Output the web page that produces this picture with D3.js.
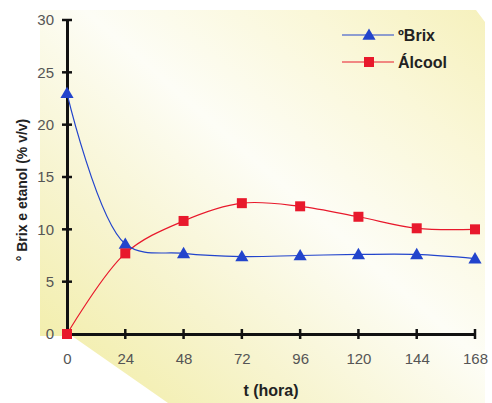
<!DOCTYPE html>
<html>
<head>
<meta charset="utf-8">
<script src="https://cdn.jsdelivr.net/npm/d3@7"></script>
<style>
  body { margin: 0; background: #fff; }
  text { font-family: "Liberation Sans", Arial, sans-serif; }
</style>
</head>
<body>
<div id="canvas"></div>
<script>
"use strict"

/* Size of the canvas */
let svgWidth = 492;
let svgHeight = 403;

/* Plot area edges */
let leftMargin = 67
let rightMargin = 17
let topMargin = 20
let bottomMargin = 69

/* Chart values */
let hours = [0, 24, 48, 72, 96, 120, 144, 168];
let brix = [23.0, 8.6, 7.7, 7.4, 7.5, 7.6, 7.6, 7.2];
let alcool = [0.0, 7.7, 10.8, 12.5, 12.2, 11.2, 10.1, 10.0];
let xTicks = [0, 24, 48, 72, 96, 120, 144, 168];
let yTicks = [0, 5, 10, 15, 20, 25, 30];
let seriesNames = ["ºBrix", "Álcool"];

let svg = d3.select("#canvas")
    .append("svg")
    .attr("width", svgWidth)
    .attr("height", svgHeight);

/* Yellowish background panel */
let defs = svg.append("defs");
let grad = defs.append("linearGradient")
    .attr("id", "bg")
    .attr("x1", "0%").attr("y1", "100%")
    .attr("x2", "100%").attr("y2", "0%");
grad.append("stop").attr("offset", "0%").attr("stop-color", "#f1eca0");
grad.append("stop").attr("offset", "30%").attr("stop-color", "#f7f4cf");
grad.append("stop").attr("offset", "55%").attr("stop-color", "#fdfdf6");
grad.append("stop").attr("offset", "80%").attr("stop-color", "#faf7d8");
grad.append("stop").attr("offset", "100%").attr("stop-color", "#f6f1bd");

svg.append("polygon")
    .attr("points", "40,10 476,10 485,22 485,403 168,403 72,336 40,336")
    .attr("fill", "url(#bg)");

/* Scales */
let xScale = d3.scaleLinear()
    .domain([0, 168])
    .range([leftMargin, svgWidth - rightMargin]);

let yScale = d3.scaleLinear()
    .domain([0, 30])
    .range([svgHeight - bottomMargin, topMargin]);

/* Axes */
let xAxis = d3.axisBottom(xScale)
    .tickValues(xTicks)
    .tickSize(0)
    .tickPadding(19);

let yAxis = d3.axisLeft(yScale)
    .tickValues(yTicks)
    .tickSize(0)
    .tickPadding(13);

let gx = svg.append("g")
    .attr("transform", "translate(0," + yScale(0) + ")")
    .call(xAxis);

let gy = svg.append("g")
    .attr("transform", "translate(" + xScale(0) + ",0)")
    .call(yAxis);

[gx, gy].forEach(function (g) {
    g.select(".domain").attr("stroke", "#111").attr("stroke-width", 3);
    g.selectAll("text")
        .attr("fill", "#555")
        .style("font-size", "15px");
});

/* Cross ticks */
xTicks.forEach(function (t) {
    svg.append("line")
        .attr("x1", xScale(t)).attr("x2", xScale(t))
        .attr("y1", yScale(0) - 5).attr("y2", yScale(0) + 5)
        .attr("stroke", "#111").attr("stroke-width", 2.5);
});
yTicks.forEach(function (t) {
    svg.append("line")
        .attr("x1", xScale(0) - 5).attr("x2", xScale(0) + 5)
        .attr("y1", yScale(t)).attr("y2", yScale(t))
        .attr("stroke", "#111").attr("stroke-width", 2.5);
});

/* Axis titles */
svg.append("text")
    .attr("x", 271)
    .attr("y", 396)
    .style("text-anchor", "middle")
    .style("font-size", "16px")
    .style("font-weight", "bold")
    .attr("fill", "#222")
    .text("t (hora)");

svg.append("text")
    .attr("transform", "translate(27,190) rotate(-90)")
    .style("text-anchor", "middle")
    .style("font-size", "14px")
    .style("font-weight", "bold")
    .attr("fill", "#222")
    .text("° Brix e etanol (% v/v)");

/* Lines */
let blue = "#2244cc";
let red = "#e8192c";

let line = d3.line()
    .x(function (d) { return xScale(d[0]); })
    .y(function (d) { return yScale(d[1]); })
    .curve(d3.curveCatmullRom.alpha(0.5));

let brixPts = hours.map(function (h, i) { return [h, brix[i]]; });
let alcPts = hours.map(function (h, i) { return [h, alcool[i]]; });

svg.append("path")
    .attr("d", line(alcPts))
    .attr("fill", "none")
    .attr("stroke", red)
    .attr("stroke-width", 1.2);

svg.append("path")
    .attr("d", line(brixPts))
    .attr("fill", "none")
    .attr("stroke", blue)
    .attr("stroke-width", 1.2);

let tri = d3.symbol().type(d3.symbolTriangle).size(75);
let sq = d3.symbol().type(d3.symbolSquare).size(100);

svg.selectAll(".brix")
    .data(brixPts)
    .join("path")
    .attr("d", tri)
    .attr("transform", function (d) { return "translate(" + xScale(d[0]) + "," + (yScale(d[1]) + 1) + ")"; })
    .attr("fill", blue);

svg.selectAll(".alc")
    .data(alcPts)
    .join("path")
    .attr("d", sq)
    .attr("transform", function (d) { return "translate(" + xScale(d[0]) + "," + yScale(d[1]) + ")"; })
    .attr("fill", red);

/* Legend */
let legendColors = [blue, red];
let legendSymbols = [tri, sq];
for (let i = 0; i < 2; i++) {
    let ly = 35 + i * 27;
    svg.append("line")
        .attr("x1", 342).attr("x2", 394)
        .attr("y1", ly).attr("y2", ly)
        .attr("stroke", legendColors[i])
        .attr("stroke-width", 1.2);
    svg.append("path")
        .attr("d", legendSymbols[i])
        .attr("transform", "translate(369," + (ly + (i == 0 ? 1 : 0)) + ")")
        .attr("fill", legendColors[i]);
    svg.append("text")
        .attr("x", 398)
        .attr("y", ly + 6)
        .style("font-size", "16px")
        .style("font-weight", "bold")
        .attr("fill", "#222")
        .text(seriesNames[i]);
}
</script>
</body>
</html>
